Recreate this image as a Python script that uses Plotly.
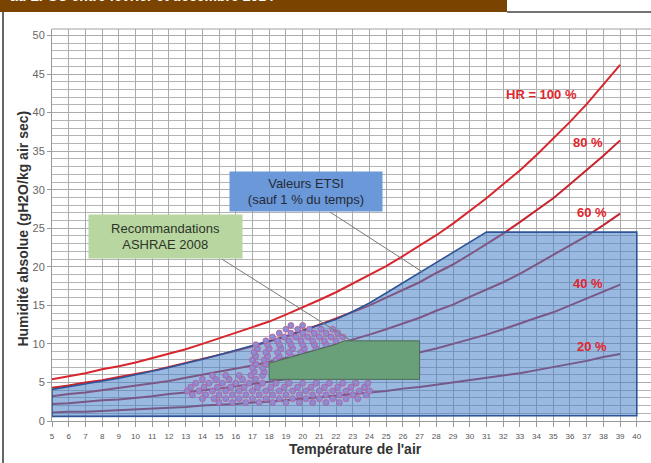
import plotly.graph_objects as go

# ---------------- data ----------------
temps = list(range(5, 40))  # °C
rh100 = [5.4, 5.8, 6.2, 6.7, 7.1, 7.6, 8.2, 8.7, 9.3, 10.0, 10.7, 11.4, 12.1, 12.9, 13.8, 14.7,
         15.7, 16.7, 17.8, 18.9, 20.1, 21.4, 22.7, 24.1, 25.6, 27.2, 28.9, 30.7, 32.5, 34.5,
         36.6, 38.8, 41.1, 43.6, 46.2]
rh80 = [4.3, 4.6, 5.0, 5.3, 5.7, 6.1, 6.5, 7.0, 7.5, 8.0, 8.5, 9.1, 9.7, 10.3, 11.0, 11.7,
        12.5, 13.3, 14.1, 15.0, 16.0, 17.0, 18.0, 19.2, 20.3, 21.6, 22.9, 24.3, 25.8, 27.3,
        28.9, 30.7, 32.5, 34.4, 36.4]
rh60 = [3.2, 3.5, 3.7, 4.0, 4.3, 4.6, 4.9, 5.2, 5.6, 6.0, 6.4, 6.8, 7.2, 7.7, 8.2, 8.7,
        9.3, 9.9, 10.5, 11.2, 11.9, 12.6, 13.4, 14.3, 15.1, 16.1, 17.0, 18.0, 19.1, 20.3,
        21.5, 22.7, 24.0, 25.4, 26.9]
rh40 = [2.2, 2.3, 2.5, 2.7, 2.8, 3.0, 3.2, 3.5, 3.7, 4.0, 4.2, 4.5, 4.8, 5.1, 5.4, 5.8,
        6.2, 6.6, 7.0, 7.4, 7.9, 8.4, 8.9, 9.4, 10.0, 10.6, 11.2, 11.9, 12.6, 13.4,
        14.1, 15.0, 15.8, 16.7, 17.7]
rh20 = [1.1, 1.2, 1.2, 1.3, 1.4, 1.5, 1.6, 1.7, 1.8, 2.0, 2.1, 2.2, 2.4, 2.5, 2.7, 2.9,
        3.1, 3.3, 3.5, 3.7, 3.9, 4.2, 4.4, 4.7, 5.0, 5.3, 5.6, 5.9, 6.2, 6.6,
        7.0, 7.4, 7.8, 8.3, 8.7]
rh_names = ["100", "80", "60", "40", "20"]
rh_series = [rh100, rh80, rh60, rh40, rh20]
rh_colors = ["#d8262e", "#c8222e", "#c02634", "#b82838", "#b02a3c"]
rh_labels = ["HR = 100 %", "80 %", "60 %", "40 %", "20 %"]
rh_label_x = [34.3, 37.1, 37.3, 37.1, 37.3]
rh_label_y = [42.4, 36.1, 27.1, 17.9, 9.7]

# ETSI envelope (top boundary, then bottom)
etsi_t = [5, 5, 6, 7, 8, 9, 10, 11, 12, 13, 14, 15, 16, 17, 18, 19, 20, 21, 22, 23, 24, 25,
          26, 27, 28, 29, 30, 31, 40, 40, 5]
etsi_h = [0.6, 4.1, 4.45, 4.8, 5.15, 5.55, 6.0, 6.45, 6.95, 7.5, 8.0, 8.6, 9.2, 9.8, 10.4,
          11.0, 11.7, 12.4, 13.2, 14.2, 15.3, 16.6, 17.9, 19.3, 20.6, 21.9, 23.2, 24.5, 24.5,
          0.7, 0.6]

# ASHRAE 2008 recommended envelope
ashrae_t = [18, 18, 19, 20, 21, 22, 22.5, 27, 27, 18]
ashrae_h = [5.4, 7.5, 8.1, 8.75, 9.35, 9.95, 10.4, 10.4, 5.4, 5.4]

# measured points (LPSC)
cloud_rows = {
    2.4: [15.0, 15.8, 16.6, 17.4, 18.2, 19.0, 19.8, 20.6, 21.4, 22.2],
    2.9: [14.0, 14.7, 15.4, 16.2, 17.0, 17.8, 18.6, 19.4, 20.2, 21.0, 21.8, 22.6, 23.3],
    3.4: [13.4, 14.2, 15.0, 15.8, 16.6, 17.4, 18.2, 19.0, 19.8, 20.6, 21.4, 22.2, 23.0, 23.8],
    3.9: [13.1, 13.8, 14.6, 15.4, 16.2, 17.0, 17.8, 18.6, 19.4, 20.2, 21.0, 21.8, 22.6, 23.4, 24.0],
    4.4: [13.3, 14.1, 14.9, 15.7, 16.5, 17.3, 18.1, 18.9, 19.7, 20.5, 21.3, 22.1, 22.9, 23.7],
    4.9: [13.6, 14.4, 15.2, 16.0, 16.8, 17.6, 18.4, 19.2, 20.0, 20.8, 21.6, 22.4, 23.2, 23.9],
    5.4: [14.0, 14.8, 15.6, 16.4, 17.2],
    5.9: [14.6, 15.4, 16.2, 16.9, 17.6],
    6.4: [17.1, 17.7],
    6.9: [17.0, 17.6],
    7.4: [17.2, 17.8],
    7.9: [17.0, 17.7, 18.4],
    8.4: [17.2, 17.9, 18.6, 19.3],
    8.9: [17.1, 17.8, 18.5, 19.2, 19.9],
    9.4: [17.3, 18.0, 18.7, 19.4, 20.1, 20.8],
    9.9: [17.2, 17.9, 18.6, 19.3, 20.0, 20.7, 21.4],
    10.4: [17.8, 18.5, 19.2, 19.9, 20.6, 21.3, 22.0],
    10.9: [18.2, 18.9, 19.6, 20.3, 21.0, 21.7, 22.4],
    11.4: [18.6, 19.3, 20.0, 20.7, 21.4, 22.1],
    11.9: [19.0, 19.7, 20.4, 21.1, 21.8],
    12.4: [19.3, 20.0],
}
cloud_t = [t for h, ts in cloud_rows.items() for t in ts]
cloud_h = [h for h, ts in cloud_rows.items() for t in ts]

FONT = "Liberation Sans, Arial, sans-serif"

# ---------------- figure ----------------
fig = go.Figure()

for name, vals, col in zip(rh_names, rh_series, rh_colors):
    fig.add_trace(go.Scatter(x=temps, y=vals, mode="lines", name="HR " + name,
                             line=dict(color=col, width=2), hoverinfo="skip"))

fig.add_trace(go.Scatter(x=etsi_t, y=etsi_h, mode="lines", fill="toself",
                         fillcolor="rgba(70,128,200,0.55)",
                         line=dict(color="#2f5597", width=1.6), hoverinfo="skip"))

fig.add_trace(go.Scatter(x=cloud_t, y=cloud_h, mode="markers",
                         marker=dict(size=6, color="rgba(138,140,214,1)",
                                     line=dict(color="rgba(196,80,130,0.85)", width=0.8)),
                         hoverinfo="skip"))

fig.add_trace(go.Scatter(x=ashrae_t, y=ashrae_h, mode="lines", fill="toself",
                         fillcolor="#6aa079", line=dict(color="#4d6b55", width=1),
                         hoverinfo="skip"))

# RH labels
for txt, lx, ly in zip(rh_labels, rh_label_x, rh_label_y):
    fig.add_annotation(x=lx, y=ly, text="<b>" + txt + "</b>", showarrow=False,
                       font=dict(size=13, color="#e0262e", family=FONT))

# leader lines
fig.add_shape(type="line", x0=21.64, y0=27.1, x1=27.2, y1=19.3, xref="x", yref="y",
              line=dict(color="#7a7a7a", width=1))
fig.add_shape(type="line", x0=15.17, y0=21.0, x1=22.83, y1=10.5, xref="x", yref="y",
              line=dict(color="#7a7a7a", width=1))

# callout boxes
fig.add_annotation(x=20.2, y=29.77, xref="x", yref="y", showarrow=False,
                   text="Valeurs ETSI<br>(sauf 1 % du temps)", width=150, height=37,
                   bgcolor="#6a98d8", font=dict(size=13, color="#262a36", family=FONT))
fig.add_annotation(x=11.79, y=23.93, xref="x", yref="y", showarrow=False,
                   text="Recommandations<br>ASHRAE 2008", width=151, height=41,
                   bgcolor="#b8d7a0", font=dict(size=13, color="#2e3328", family=FONT))

# axis titles
fig.add_annotation(x=-0.049, y=0.49, xref="paper", yref="paper", showarrow=False,
                   xanchor="center", yanchor="middle",
                   text="<b>Humidité absolue (gH2O/kg air sec)</b>", textangle=-90,
                   font=dict(size=14, color="#333333", family=FONT))
fig.add_annotation(x=0.5075, y=-0.072, xref="paper", yref="paper", showarrow=False,
                   xanchor="center", yanchor="middle",
                   text="<b>Température de l'air</b>",
                   font=dict(size=14, color="#333333", family=FONT))

# page decorations: brown banner, frame lines
fig.add_shape(type="rect", xref="paper", yref="paper",
              x0=-52 / 599, x1=(507 - 52) / 599, y0=(421 - 12) / 392, y1=421 / 392 + 0.01,
              fillcolor="#7b4300", line=dict(width=0), layer="above")
fig.add_annotation(x=8 / 599 - 52 / 599, y=(421 - 6) / 392, xref="paper", yref="paper",
                   xanchor="left", yanchor="bottom", showarrow=False,
                   text="<b>au LPSC entre février et décembre 2014</b>",
                   font=dict(size=14, color="white", family=FONT))
fig.add_shape(type="line", xref="paper", yref="paper",
              x0=(507 - 52) / 599, x1=1.0, y0=(421 - 12) / 392, y1=(421 - 12) / 392,
              line=dict(color="#444444", width=1.5))
fig.add_shape(type="line", xref="paper", yref="paper",
              x0=(3 - 52) / 599, x1=(3 - 52) / 599, y0=(421 - 12) / 392, y1=-42 / 392,
              line=dict(color="#333333", width=1.5))
fig.add_shape(type="line", xref="paper", yref="paper", x0=0, x1=1, y0=1, y1=1,
              line=dict(color="#a0a0a0", width=1))

fig.update_layout(
    width=651, height=463,
    margin=dict(l=52, r=0, t=29, b=42, autoexpand=False),
    plot_bgcolor="white", paper_bgcolor="white",
    showlegend=False,
    font=dict(family=FONT),
    xaxis=dict(range=[5, 40.85], tick0=5, dtick=1, showgrid=True, gridcolor="#ababab",
               gridwidth=1, zeroline=False, showline=True, linecolor="#999999",
               ticks="outside", ticklen=5, tickcolor="#999999", automargin=False,
               ticklabelstandoff=2,
               tickfont=dict(size=8, color="#555555", family=FONT)),
    yaxis=dict(range=[0, 50.85], tick0=0, dtick=5, showgrid=True, gridcolor="#ababab",
               gridwidth=1, zeroline=False, showline=True, linecolor="#999999",
               ticks="outside", ticklen=4, tickcolor="#999999", automargin=False,
               tickfont=dict(size=11, color="#666666", family=FONT),
               minor=dict(dtick=1, showgrid=True, gridcolor="#b4b4b4", gridwidth=1)),
)

fig.write_html("out.html", config={"displayModeBar": False},
               post_script="document.body.style.margin='0px';document.body.style.overflow='hidden';")
